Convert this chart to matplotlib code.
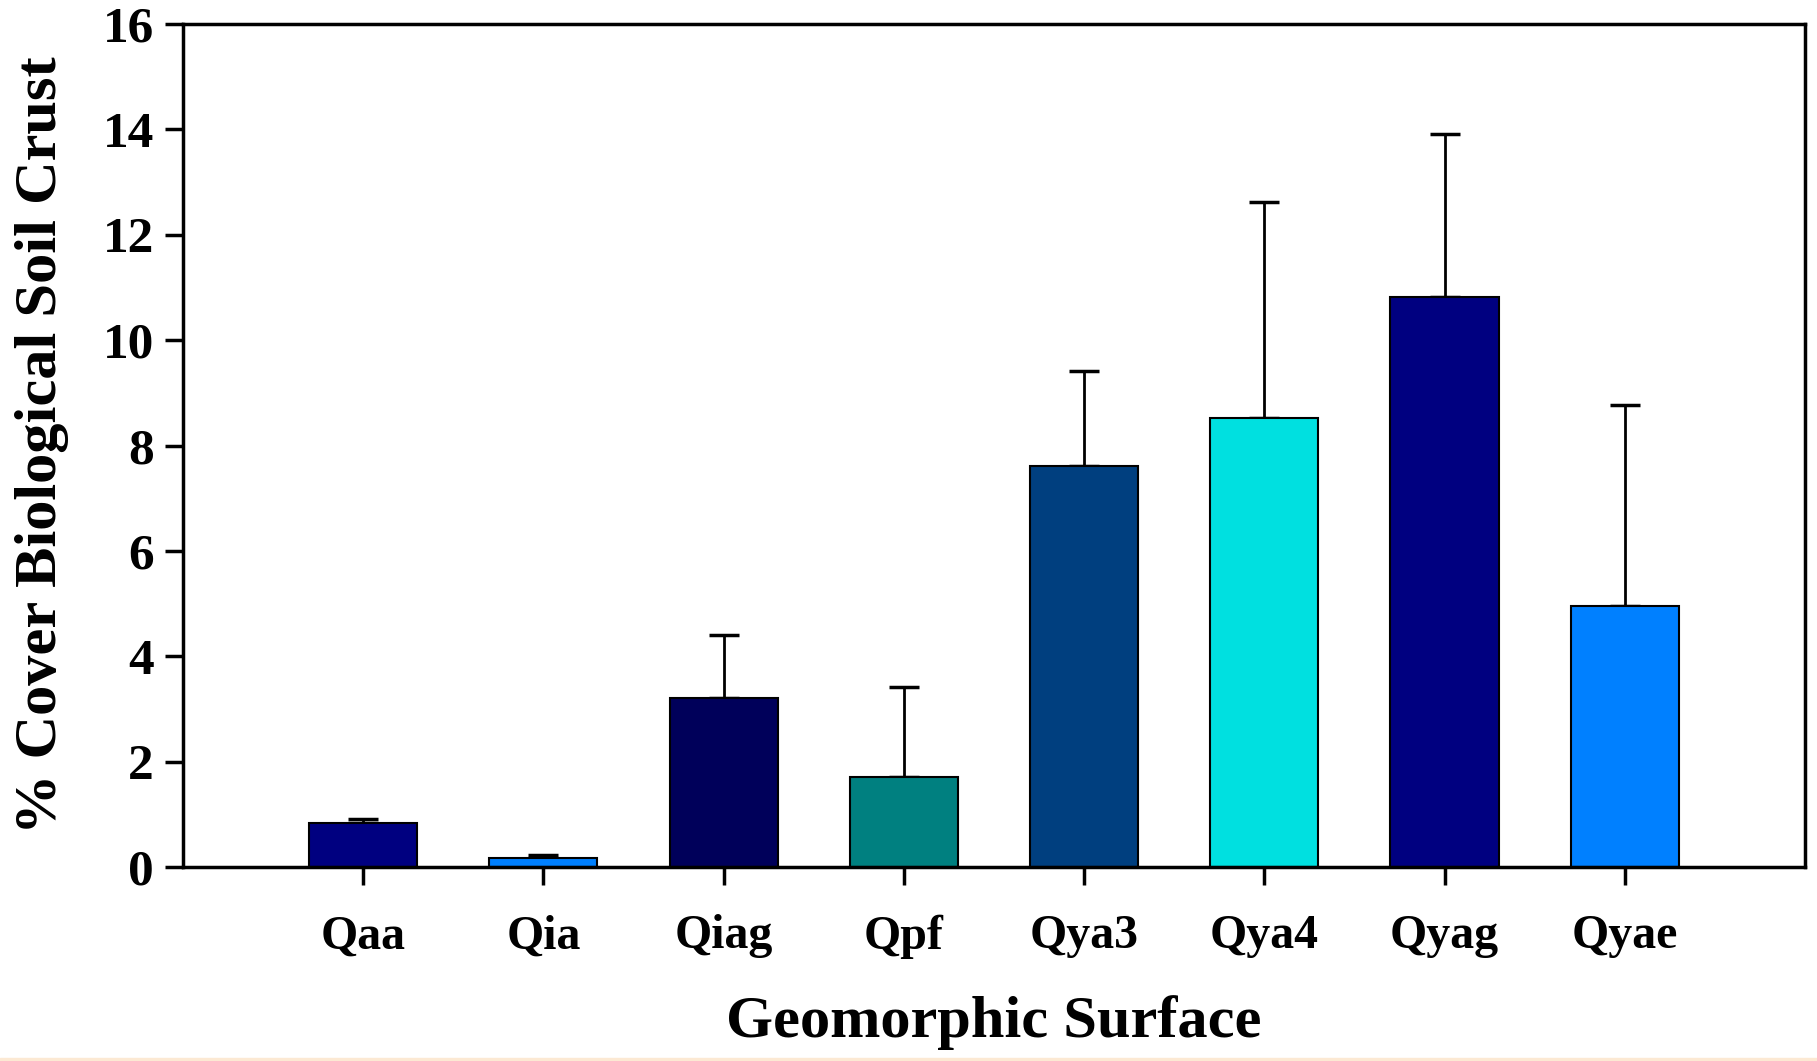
import numpy as np
import matplotlib.pyplot as plt
from matplotlib.patches import Rectangle

surfaces = ['Qaa', 'Qia', 'Qiag', 'Qpf', 'Qya3', 'Qya4', 'Qyag', 'Qyae']
cover = [0.84, 0.18, 3.21, 1.70, 7.61, 8.52, 10.82, 4.96]
cover_err = [0.08, 0.04, 1.20, 1.71, 1.81, 4.10, 3.10, 3.80]
bar_colors = ['#000080', '#0080FF', '#00005A', '#008080',
              '#003F7F', '#00E0E0', '#000080', '#0080FF']

plt.rcParams['font.family'] = ['Liberation Serif', 'DejaVu Serif']
plt.rcParams['font.weight'] = 'bold'

fig = plt.figure(figsize=(18.17, 10.61), dpi=100)
ax = fig.add_axes([0.1007, 0.1828, 0.8927, 0.7946])

x = np.arange(len(surfaces))
ax.bar(x, cover, width=0.6, color=bar_colors, edgecolor='black', linewidth=1.5, zorder=2)
ax.errorbar(x, cover, yerr=[np.zeros(len(cover)), cover_err], fmt='none',
            ecolor='black', elinewidth=2, capsize=11, capthick=2.5, zorder=1)

ax.set_xlim(-1, 8)
ax.set_ylim(0, 16)
ax.set_yticks(np.arange(0, 17, 2))
ax.set_xticks(x)
ax.set_xticklabels(surfaces)

for s in ax.spines.values():
    s.set_linewidth(2.5)
ax.tick_params(axis='both', direction='out', width=2.5, length=13)
ax.tick_params(axis='x', pad=21, labelsize=34.5)
ax.tick_params(axis='y', pad=8, labelsize=37)
for lab in ax.get_xticklabels() + ax.get_yticklabels():
    lab.set_fontweight('bold')

ax.set_xlabel('Geomorphic Surface', fontsize=43.5, fontweight='bold', labelpad=26)
ax.set_ylabel('% Cover Biological Soil Crust', fontsize=43.5, fontweight='bold', labelpad=24)

fig.patches.append(Rectangle((0, 0), 1, 3 / 1061, transform=fig.transFigure,
                             color='#FCE9D3', zorder=0))

fig.savefig('out.png', dpi=100)
